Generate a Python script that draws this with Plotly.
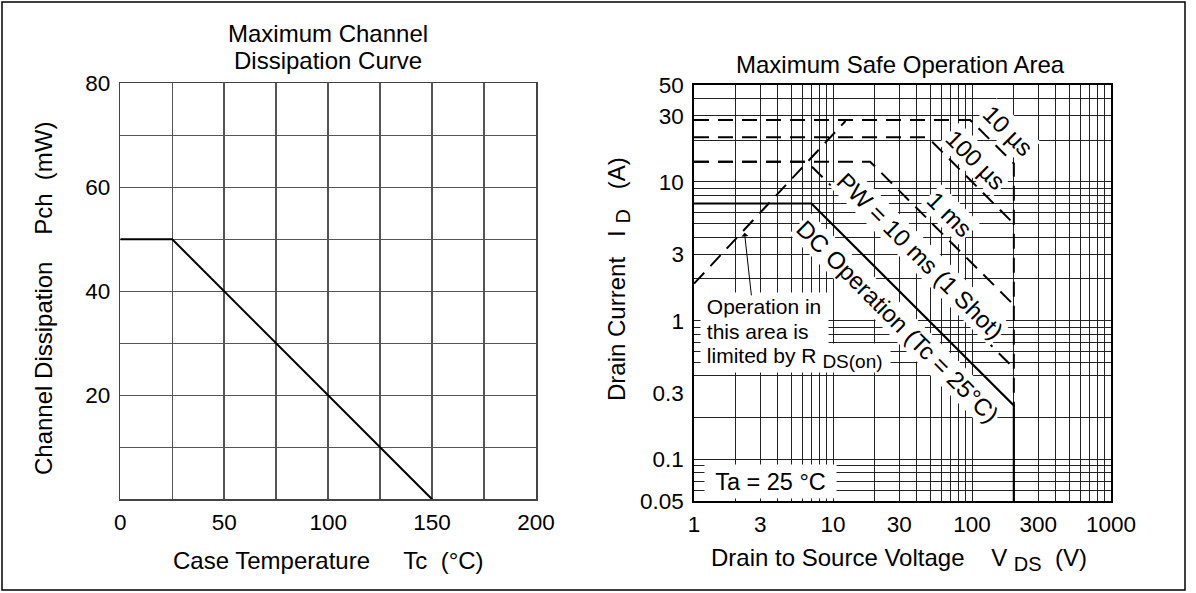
import math
import plotly.graph_objects as go

W, H = 1196, 593
FONT = "Liberation Sans, Arial, Helvetica, sans-serif"

# ---------------- data ----------------
# Left: Maximum channel dissipation curve
case_temp = [0, 25, 150]          # Tc (°C)
channel_diss = [50, 50, 0]         # Pch (mW)

# Right: Maximum safe operation area (V, A)
rds_v = [1, 12.3]
rds_i = [1.85, 27.5]
us10_v = [1, 97, 200, 200]
us10_i = [28, 28, 13.6, 0.245]
us100_v = [1, 48, 200]
us100_i = [21, 21, 5.0]
ms1_v = [1, 18.5, 200]
ms1_i = [14, 14, 1.3]
ms10_v = [1, 6.5, 200]
ms10_i = [14, 14, 0.455]
dc_v = [1, 7, 200, 200]
dc_i = [7, 7, 0.245, 0.05]

left_xticks = [0, 50, 100, 150, 200]
left_yticks = [20, 40, 60, 80]
left_xminor = [25, 75, 125, 175]
left_yminor = [10, 30, 50, 70]

right_xticks = [1, 3, 10, 30, 100, 300, 1000]
right_xtext = ["1", "3", "10", "30", "100", "300", "1000"]
right_yticks = [0.05, 0.1, 0.3, 1, 3, 10, 30, 50]
right_ytext = ["0.05", "0.1", "0.3", "1", "3", "10", "30", "50"]

right_xgrid = [m * 10 ** k for k in range(3) for m in range(1, 10)] + [1000]
right_ygrid = ([0.05, 0.06, 0.07, 0.08, 0.09, 0.1, 0.2, 0.4, 0.5, 0.6, 0.7, 0.8, 0.9]
               + [m for m in range(1, 10)] + [10, 20, 30, 40, 50])


def X(px):
    return px / W


def Y(py):
    return 1 - py / H


fig = go.Figure()

fig.add_trace(go.Scatter(x=case_temp, y=channel_diss, mode="lines",
                         line=dict(color="black", width=2),
                         xaxis="x", yaxis="y", hoverinfo="skip"))

DASH = "15px,9px"
for v, i in [(rds_v, rds_i), (us10_v, us10_i), (us100_v, us100_i),
             (ms1_v, ms1_i), (ms10_v, ms10_i)]:
    fig.add_trace(go.Scatter(x=v, y=i, mode="lines",
                             line=dict(color="black", width=2, dash=DASH),
                             xaxis="x2", yaxis="y2", hoverinfo="skip"))
fig.add_trace(go.Scatter(x=dc_v, y=dc_i, mode="lines",
                         line=dict(color="black", width=2.2),
                         xaxis="x2", yaxis="y2", hoverinfo="skip"))

LGRID = "#555555"
RGRID = "#222222"
tickfont = dict(family=FONT, size=22.5, color="black")

common = dict(ticks="", zeroline=False, fixedrange=True, automargin=False,
              showline=True, mirror=True, linewidth=1.6)

fig.update_layout(
    width=W, height=H, autosize=False,
    margin=dict(l=0, r=0, t=0, b=0, pad=0),
    paper_bgcolor="white", plot_bgcolor="white",
    showlegend=False,
    font=dict(family=FONT, color="black", size=22),
    xaxis=dict(domain=[X(120.3), X(536)], range=[0, 200], anchor="y",
               tickmode="array", tickvals=left_xticks, tickfont=tickfont,
               showgrid=True, gridcolor=LGRID, gridwidth=1.5,
               minor=dict(tickmode="array", tickvals=left_xminor, showgrid=True,
                          gridcolor=LGRID, gridwidth=1.5, ticks=""),
               linecolor="#444444", ticklabelstandoff=2, **common),
    yaxis=dict(domain=[Y(499.3), Y(83.3)], range=[0, 80], anchor="x",
               tickmode="array", tickvals=left_yticks, tickfont=tickfont,
               showgrid=True, gridcolor=LGRID, gridwidth=1.5,
               minor=dict(tickmode="array", tickvals=left_yminor, showgrid=True,
                          gridcolor=LGRID, gridwidth=1.5, ticks=""),
               linecolor="#444444", ticklabelstandoff=4, **common),
    xaxis2=dict(type="log", domain=[X(694), X(1111)], range=[0, 3], anchor="y2",
                tickmode="array", tickvals=right_xticks, ticktext=right_xtext,
                tickfont=tickfont, showgrid=False,
                minor=dict(tickmode="array", tickvals=right_xgrid, showgrid=True,
                           gridcolor=RGRID, gridwidth=1, ticks=""),
                linecolor="black", ticklabelstandoff=2, **common),
    yaxis2=dict(type="log", domain=[Y(501.3), Y(85)],
                range=[math.log10(0.05), math.log10(50)], anchor="x2",
                tickmode="array", tickvals=right_yticks, ticktext=right_ytext,
                tickfont=tickfont, showgrid=False,
                minor=dict(tickmode="array", tickvals=right_ygrid, showgrid=True,
                           gridcolor=RGRID, gridwidth=1, ticks=""),
                linecolor="black", ticklabelstandoff=4, **common),
)

ann = []


def text_ann(txt, px, py, size=24, angle=0, **kw):
    d = dict(text=txt, x=X(px), y=Y(py), xref="paper", yref="paper",
             showarrow=False, textangle=angle, xanchor="center", yanchor="middle",
             font=dict(family=FONT, size=size, color="black"))
    d.update(kw)
    ann.append(d)


NB = "\u00a0"


def sub(s, px):
    return "<sub><span style='font-size:%dpx'>%s</span></sub>" % (px, s)


# Titles
text_ann("Maximum Channel", 328, 34)
text_ann("Dissipation Curve", 328, 60)
text_ann("Maximum Safe Operation Area", 900, 64)
# Axis titles
text_ann("Case Temperature" + NB * 5 + "Tc" + NB * 2 + "(°C)", 328, 560)
text_ann("Channel Dissipation" + NB * 4 + "Pch" + NB * 2 + "(mW)", 43, 299, angle=-90)
text_ann("Drain to Source Voltage" + NB * 4 + "V " + sub("DS", 20) + NB * 2 + "(V)", 899, 559)
text_ann("Drain Current" + NB * 3 + "I " + sub("D", 20) + NB * 3 + "(A)", 618, 279, angle=-90)

# Rotated curve labels
for txt, px, py in [("10 µs", 1008, 130), ("100 µs", 975, 160), ("1 ms", 950, 214),
                    ("PW = 10 ms (1 Shot)", 920, 255),
                    ("DC Operation (Tc = 25°C)", 898, 321)]:
    text_ann(txt, px, py, angle=45, bgcolor="white", borderpad=1)

# Operation-area note (per-line white boxes)
text_ann(NB + "Operation in", 700, 306, size=21, xanchor="left", align="left",
         bgcolor="white", borderpad=0, width=127, height=26)
text_ann(NB + "this area is", 700, 331, size=21, xanchor="left", align="left",
         bgcolor="white", borderpad=0, width=127, height=26)
text_ann(NB + "limited by R " + sub("DS(on)", 19), 700, 358, size=21, xanchor="left",
         align="left", bgcolor="white", borderpad=0, width=189, height=28)

# Ta box
text_ann("Ta = 25 °C", 770, 481, size=23.5, bgcolor="white", borderpad=0,
         width=131, height=33)

# Arrow pointing at the R_DS(on) limit line
ann.append(dict(text="", x=math.log10(2.31), y=math.log10(4.3), xref="x2", yref="y2",
                showarrow=True, arrowhead=1, arrowsize=1.2, arrowwidth=1,
                arrowcolor="black", ax=7, ay=64))

fig.update_layout(annotations=ann)

# Outer frame
fig.add_shape(type="rect", xref="paper", yref="paper",
              x0=X(2), x1=X(1185), y0=Y(590), y1=Y(2),
              line=dict(color="black", width=1.5), fillcolor="rgba(0,0,0,0)")

fig.write_html("out.html", config={"displayModeBar": False, "staticPlot": True},
               post_script="document.body.style.margin='0';document.body.style.overflow='hidden';")
